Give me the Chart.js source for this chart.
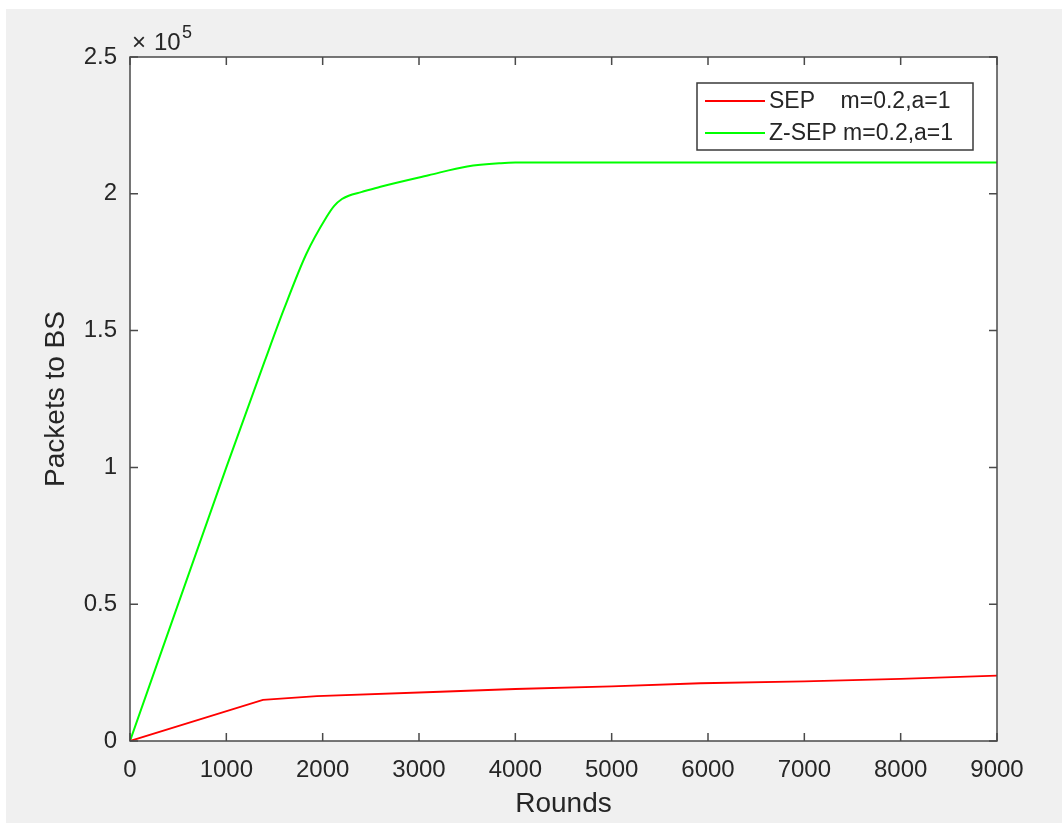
<!DOCTYPE html>
<html>
<head>
<meta charset="utf-8">
<title>Packets to BS</title>
<script src="https://cdn.jsdelivr.net/npm/chart.js@4.4.1/dist/chart.umd.min.js"></script>
<style>
  html, body { margin: 0; padding: 0; background: #ffffff; }
  #wrap { width: 1062px; height: 823px; position: relative; }
</style>
</head>
<body>
<div id="wrap"><canvas id="grafico"></canvas></div>
<script>
// dados (rounds x pacotes)
const roundsZsep = [0, 1000, 1400, 1600, 1830, 2040, 2120, 2200, 2270, 2400, 2600, 3100, 3500, 3850, 4000, 9000];
const pacotesZsep = [0, 100000, 139000, 158000, 178000, 191500, 195600, 198100, 199300, 200600, 202600, 206800, 210000, 211200, 211400, 211400];

const roundsSep = [0, 1380, 1940, 3220, 4000, 5000, 5920, 7000, 8000, 9000];
const pacotesSep = [0, 15000, 16400, 18000, 19000, 20000, 21100, 21800, 22700, 23900];

const xTicks = [0, 1000, 2000, 3000, 4000, 5000, 6000, 7000, 8000, 9000];
const yTicks = [0, 0.5, 1, 1.5, 2, 2.5];
const legendas = ["SEP    m=0.2,a=1", "Z-SEP m=0.2,a=1"];

const corTexto = "#262626";
const corEixo = "#4a4a4a";
const fonte = "'Liberation Sans', Arial, Helvetica, sans-serif";

function pontos(xs, ys) {
  return xs.map((x, i) => ({ x, y: ys[i] }));
}

/* ---------- fundo cinza estilo matlab ---------- */
const fundoPlugin = {
  id: "fundo",
  beforeDraw(chart) {
    const c = chart.ctx;
    c.save();
    c.fillStyle = "#ffffff";
    c.fillRect(0, 0, chart.width, chart.height);
    c.fillStyle = "#f0f0f0";
    c.fillRect(6, 9, chart.width - 6, chart.height - 9);
    const a = chart.chartArea;
    c.fillStyle = "#ffffff";
    c.fillRect(a.left, a.top, a.right - a.left, a.bottom - a.top);
    c.restore();
  }
};

/* ---------- caixa, ticks para dentro, expoente e legenda ---------- */
const caixaPlugin = {
  id: "caixa",
  afterDraw(chart) {
    const c = chart.ctx;
    const a = chart.chartArea;
    const sx = chart.scales.x, sy = chart.scales.y;
    const tam = 8;
    c.save();
    c.strokeStyle = corEixo;
    c.lineWidth = 1.5;
    c.strokeRect(a.left, a.top, a.right - a.left, a.bottom - a.top);
    c.beginPath();
    xTicks.forEach(v => {
      const px = sx.getPixelForValue(v);
      c.moveTo(px, a.bottom); c.lineTo(px, a.bottom - tam);
      c.moveTo(px, a.top); c.lineTo(px, a.top + tam);
    });
    yTicks.forEach(v => {
      const py = sy.getPixelForValue(v * 1e5);
      c.moveTo(a.left, py); c.lineTo(a.left + tam, py);
      c.moveTo(a.right, py); c.lineTo(a.right - tam, py);
    });
    c.stroke();

    // x10^5
    c.fillStyle = corTexto;
    c.textBaseline = "alphabetic";
    c.textAlign = "left";
    c.font = "24px " + fonte;
    c.fillText("\u00d7", a.left + 2, a.top - 7);
    c.fillText("10", a.left + 24, a.top - 7);
    c.font = "18px " + fonte;
    c.fillText("5", a.left + 52, a.top - 19);

    // legenda
    const lx = 697, ly = 83, lw = 276, lh = 67;
    c.fillStyle = "#ffffff";
    c.fillRect(lx, ly, lw, lh);
    c.strokeStyle = "#3a3a3a";
    c.lineWidth = 1.5;
    c.strokeRect(lx, ly, lw, lh);
    c.font = "23px " + fonte;
    c.textBaseline = "middle";
    chart.data.datasets.forEach((ds, i) => {
      const yy = ly + 18 + i * 32;
      c.strokeStyle = ds.borderColor;
      c.lineWidth = 2;
      c.beginPath();
      c.moveTo(lx + 8, yy); c.lineTo(lx + 68, yy);
      c.stroke();
      c.fillStyle = corTexto;
      c.fillText(ds.label, lx + 72, yy + 1);
    });
    c.restore();
  }
};

new Chart(document.getElementById("grafico"), {
  type: "line",
  data: {
    datasets: [
      {
        label: legendas[0],
        data: pontos(roundsSep, pacotesSep),
        borderColor: "#ff0000",
        borderWidth: 1.8,
        pointRadius: 0,
        tension: 0,
        fill: false
      },
      {
        label: legendas[1],
        data: pontos(roundsZsep, pacotesZsep),
        borderColor: "#00ff00",
        borderWidth: 2,
        pointRadius: 0,
        cubicInterpolationMode: "monotone",
        fill: false
      }
    ]
  },
  options: {
    responsive: true,
    maintainAspectRatio: false,
    animation: false,
    layout: { padding: { left: 0, top: 57, right: 65, bottom: 0 } },
    plugins: {
      legend: { display: false },
      tooltip: { enabled: false }
    },
    scales: {
      x: {
        type: "linear",
        min: 0,
        max: 9000,
        afterBuildTicks: s => { s.ticks = xTicks.map(v => ({ value: v })); },
        afterFit: s => { s.height = 82; },
        grid: { display: false, drawTicks: false },
        border: { display: false },
        ticks: {
          color: corTexto,
          font: { size: 24, family: fonte },
          padding: 15,
          maxRotation: 0,
          autoSkip: false,
          callback: v => String(v)
        },
        title: {
          display: true,
          text: "Rounds",
          color: corTexto,
          font: { size: 28, family: fonte },
          padding: { top: 0, bottom: 2 }
        }
      },
      y: {
        type: "linear",
        min: 0,
        max: 250000,
        afterBuildTicks: s => { s.ticks = yTicks.map(v => ({ value: v * 1e5 })); },
        afterFit: s => { s.width = 130; },
        grid: { display: false, drawTicks: false },
        border: { display: false },
        ticks: {
          color: corTexto,
          font: { size: 24, family: fonte },
          padding: 13,
          callback: v => String(v / 1e5)
        },
        title: {
          display: true,
          text: "Packets to BS",
          color: corTexto,
          font: { size: 28, family: fonte },
          padding: { top: 39, bottom: 0 }
        }
      }
    }
  },
  plugins: [fundoPlugin, caixaPlugin]
});
</script>
</body>
</html>
